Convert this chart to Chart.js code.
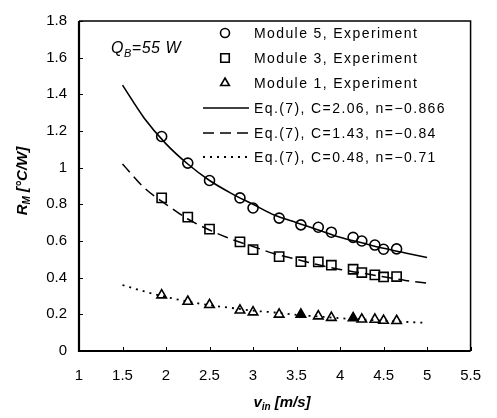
<!DOCTYPE html>
<html>
<head>
<meta charset="utf-8">
<script src="https://cdn.jsdelivr.net/npm/chart.js@4/dist/chart.umd.min.js"></script>
<style>
  html, body { margin: 0; padding: 0; background: #fff; }
  #c { display: block; }
</style>
</head>
<body>
<canvas id="c" width="497" height="418"></canvas>
<script>
// measured points (v_in in m/s, R_M in °C/W)
const vExp = [1.95, 2.25, 2.5, 2.85, 3.0, 3.3, 3.55, 3.75, 3.9, 4.15, 4.25, 4.4, 4.5, 4.65];
const rMod5 = [1.17, 1.025, 0.93, 0.835, 0.78, 0.725, 0.688, 0.675, 0.648, 0.62, 0.6, 0.578, 0.555, 0.557];
const rMod3 = [0.835, 0.73, 0.665, 0.595, 0.553, 0.515, 0.487, 0.486, 0.468, 0.446, 0.428, 0.415, 0.404, 0.406];
const rMod1 = [0.305, 0.27, 0.252, 0.222, 0.212, 0.2, 0.2, 0.19, 0.182, 0.18, 0.173, 0.172, 0.166, 0.165];
const filledMod1 = [6, 9]; // triangles drawn solid in the figure

// fitted curves
const vFit = [1.5, 1.75, 2, 2.25, 2.5, 2.75, 3, 3.25, 3.5, 3.75, 4, 4.25, 4.5, 4.75, 5];
const rFit5 = [1.45, 1.27, 1.13, 1.02, 0.93, 0.86, 0.80, 0.74, 0.70, 0.66, 0.62, 0.59, 0.56, 0.535, 0.51];
const rFit3 = [1.02, 0.89, 0.80, 0.72, 0.66, 0.61, 0.57, 0.53, 0.50, 0.47, 0.445, 0.425, 0.405, 0.385, 0.37];
const rFit1 = [0.36, 0.325, 0.295, 0.27, 0.25, 0.235, 0.22, 0.21, 0.197, 0.188, 0.179, 0.172, 0.165, 0.159, 0.153];

const legendLabels = [
  'Module 5, Experiment',
  'Module 3, Experiment',
  'Module 1, Experiment',
  'Eq.(7), C=2.06, n=\u22120.866',
  'Eq.(7), C=1.43, n=\u22120.84',
  'Eq.(7), C=0.48, n=\u22120.71'
];

const xTicks = [1, 1.5, 2, 2.5, 3, 3.5, 4, 4.5, 5, 5.5];
const yTicks = [0, 0.2, 0.4, 0.6, 0.8, 1, 1.2, 1.4, 1.6, 1.8];

const FONT = '"Liberation Sans", Arial, Helvetica, sans-serif';

const pts = (xs, ys) => xs.map((x, i) => ({ x: x, y: ys[i] }));

function markerSet(label, ys, style, radius, fills) {
  return {
    label: label,
    data: pts(vExp, ys),
    showLine: false,
    pointStyle: style,
    pointRadius: radius,
    pointBorderWidth: 1.6,
    pointBorderColor: '#000',
    pointBackgroundColor: fills || 'rgba(0,0,0,0)'
  };
}

function fitSet(label, ys, dash, width) {
  return {
    label: label,
    data: pts(vFit, ys),
    showLine: true,
    borderColor: '#000',
    borderWidth: width,
    borderDash: dash,
    pointRadius: 0,
    cubicInterpolationMode: 'monotone'
  };
}

// subscript text helper: parts = [[text, isSub], ...]
function drawRich(ctx, parts, size, style, cx, cy) {
  const big = style + ' ' + size + 'px ' + FONT;
  const small = style + ' ' + Math.round(size * 0.68) + 'px ' + FONT;
  let w = 0;
  parts.forEach(p => { ctx.font = p[1] ? small : big; w += ctx.measureText(p[0]).width; });
  let x = cx - w / 2;
  ctx.textBaseline = 'middle';
  ctx.textAlign = 'left';
  parts.forEach(p => {
    ctx.font = p[1] ? small : big;
    ctx.fillText(p[0], x, p[1] ? cy + size * 0.3 : cy);
    x += ctx.measureText(p[0]).width;
  });
}

const decorPlugin = {
  id: 'decor',
  afterDraw(chart) {
    const ctx = chart.ctx;
    const a = chart.chartArea;
    const xs = chart.scales.x, ys = chart.scales.y;
    ctx.save();
    ctx.strokeStyle = '#000';
    ctx.fillStyle = '#000';

    // frame
    ctx.lineWidth = 1.5;
    ctx.beginPath();
    ctx.moveTo(a.left, a.top); ctx.lineTo(a.right, a.top); ctx.lineTo(a.right, a.bottom);
    ctx.stroke();
    ctx.lineWidth = 2.2;
    ctx.beginPath();
    ctx.moveTo(a.left, a.top); ctx.lineTo(a.left, a.bottom); ctx.lineTo(a.right, a.bottom);
    ctx.stroke();

    // inward tick marks
    ctx.lineWidth = 1;
    xTicks.forEach(v => {
      const px = Math.round(xs.getPixelForValue(v)) + 0.5;
      ctx.beginPath(); ctx.moveTo(px, a.bottom); ctx.lineTo(px, a.bottom - 4); ctx.stroke();
    });
    yTicks.forEach(v => {
      const py = Math.round(ys.getPixelForValue(v)) + 0.5;
      ctx.beginPath(); ctx.moveTo(a.left, py); ctx.lineTo(a.left + 4, py); ctx.stroke();
    });

    // legend inside plot
    const rowY = [33, 58, 83, 108, 133, 157];
    const sx0 = 203, sx1 = 249, mx = 225, tx = 254;
    chart.data.datasets.forEach((ds, i) => {
      const y = rowY[i];
      if (ds.showLine) {
        ctx.save();
        ctx.lineWidth = ds.borderWidth;
        ctx.setLineDash(ds.borderDash || []);
        ctx.beginPath(); ctx.moveTo(sx0, y); ctx.lineTo(sx1, y); ctx.stroke();
        ctx.restore();
      } else {
        ctx.save();
        ctx.lineWidth = ds.pointBorderWidth;
        ctx.fillStyle = 'rgba(0,0,0,0)';
        Chart.helpers.drawPoint(ctx, { pointStyle: ds.pointStyle, radius: ds.pointRadius - 0.5, borderWidth: ds.pointBorderWidth, rotation: 0 }, mx, y);
        ctx.restore();
      }
      ctx.fillStyle = '#000';
      ctx.font = '14px ' + FONT;
      ctx.letterSpacing = '1.4px';
      ctx.textAlign = 'left';
      ctx.textBaseline = 'middle';
      ctx.fillText(ds.label, tx, y + 1);
      ctx.letterSpacing = '0px';
    });

    // Q_B annotation
    ctx.letterSpacing = '0.5px';
    drawRich(ctx, [['Q', false], ['B', true], ['=55 W', false]], 16, 'italic', 146, 49);
    ctx.letterSpacing = '0px';

    // axis titles
    drawRich(ctx, [['v', false], ['in', true], [' [m/s]', false]], 15, 'italic bold', 282, 403);
    ctx.translate(23, 181);
    ctx.rotate(-Math.PI / 2);
    drawRich(ctx, [['R', false], ['M', true], [' [\u00b0C/W]', false]], 15, 'italic bold', 0, 0);
    ctx.restore();
  }
};

const tickFmt = v => String(Number(v.toFixed(1)));

new Chart(document.getElementById('c'), {
  type: 'scatter',
  data: {
    datasets: [
      markerSet(legendLabels[0], rMod5, 'circle', 5),
      markerSet(legendLabels[1], rMod3, 'rect', 6.5),
      markerSet(legendLabels[2], rMod1, 'triangle', 5.5,
        rMod1.map((_, i) => filledMod1.includes(i) ? '#000' : 'rgba(0,0,0,0)')),
      fitSet(legendLabels[3], rFit5, [], 1.6),
      fitSet(legendLabels[4], rFit3, [11, 6], 1.5),
      fitSet(legendLabels[5], rFit1, [2, 5], 1.8)
    ]
  },
  options: {
    responsive: false,
    animation: false,
    devicePixelRatio: 1,
    layout: { padding: { top: 11, right: 19, left: 0, bottom: 0 } },
    plugins: { legend: { display: false }, tooltip: { enabled: false } },
    scales: {
      x: {
        type: 'linear', min: 1, max: 5.5,
        afterFit: s => { s.height = 67; },
        afterBuildTicks: s => { s.ticks = xTicks.map(v => ({ value: v })); },
        ticks: { callback: tickFmt, color: '#000', font: { size: 15, family: FONT }, padding: 16, maxRotation: 0 },
        grid: { display: true, drawOnChartArea: false, drawTicks: false },
        border: { display: false }
      },
      y: {
        type: 'linear', min: 0, max: 1.8,
        afterFit: s => { s.width = 79; },
        afterBuildTicks: s => { s.ticks = yTicks.map(v => ({ value: v })); },
        ticks: { callback: tickFmt, color: '#000', font: { size: 15, family: FONT }, padding: 12 },
        grid: { display: true, drawOnChartArea: false, drawTicks: false },
        border: { display: false }
      }
    }
  },
  plugins: [decorPlugin]
});
</script>
</body>
</html>
